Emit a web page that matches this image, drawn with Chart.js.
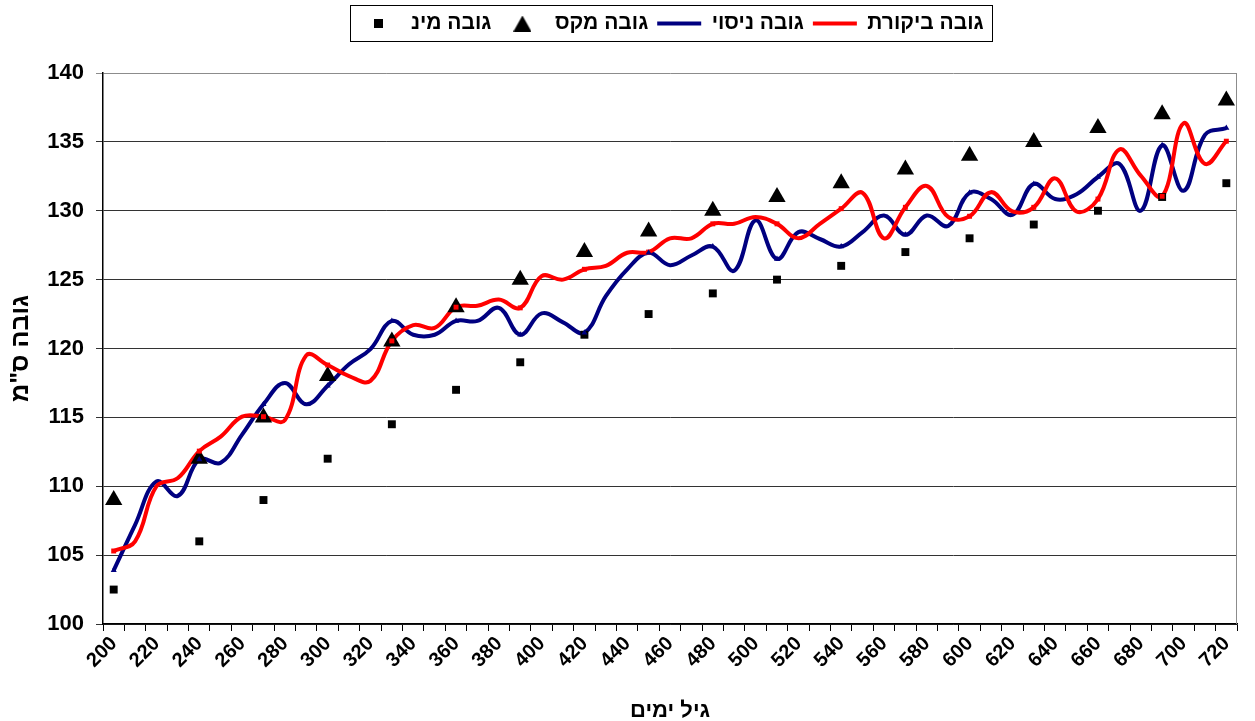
<!DOCTYPE html>
<html lang="he">
<head>
  <meta charset="UTF-8">
  <title>גובה לפי גיל</title>
  <script src="https://cdn.jsdelivr.net/npm/chart.js"></script>
  <style>
    body { margin: 0; background: #fff; }
  </style>
</head>
<body>
  <canvas id="chart" width="1255" height="721"></canvas>

  <script>
    // marker series (min / max) - ages in days
    const markerAges = [205, 245, 275, 305, 335, 365, 395, 425, 455, 485, 515, 545, 575, 605, 635, 665, 695, 725];
    const maxHeight = [109, 112, 115, 118, 120.5, 123, 125, 127, 128.5, 130, 131, 132, 133, 134, 135, 136, 137, 138];
    const minHeight = [102.5, 106, 109, 112, 114.5, 117, 119, 121, 122.5, 124, 125, 126, 127, 128, 129, 130, 131, 132];

    // line series, one reading every 10 days
    const lineAges = [205, 215, 225, 235, 245, 255, 265, 275, 285, 295, 305, 315, 325, 335,
      345, 355, 365, 375, 385, 395, 405, 415, 425, 435, 445, 455, 465,
      475, 485, 495, 505, 515, 525, 535, 545, 555, 565, 575, 585, 595, 605,
      615, 625, 635, 645, 655, 665, 675, 685, 695, 705, 715, 725];
    const controlHeight = [105.3, 106.0, 110.0, 110.6, 112.55, 113.6, 115.05, 115.05, 114.8, 119.5, 118.8, 118.0, 117.65, 120.55,
      121.7, 121.5, 123.0, 123.1, 123.55, 122.95, 125.25, 125.0, 125.75, 126.0, 126.95, 127.0, 128.0,
      128.0, 129.05, 129.05, 129.55, 129.05, 128.0, 129.05, 130.15, 131.3, 128.0, 130.25, 131.8, 129.55, 129.6,
      131.35, 129.95, 130.25, 132.35, 129.95, 130.85, 134.45, 132.55, 131.05, 136.35, 133.4, 135.05];
    const trialHeight = [103.9, 107.2, 110.35, 109.3, 111.95, 111.7, 113.75, 115.95, 117.5, 115.95, 117.3, 118.85, 119.95, 122.0,
      121.0, 121.0, 122.0, 122.0, 122.95, 121.0, 122.55, 121.9, 121.15, 123.8, 125.75, 126.95, 126.05,
      126.75, 127.4, 125.65, 129.3, 126.5, 128.45, 127.95, 127.4, 128.45, 129.65, 128.25, 129.65, 128.9, 131.3,
      130.85, 129.7, 131.95, 130.85, 131.2, 132.45, 133.4, 130.0, 134.75, 131.45, 135.5, 136.0];

    const seriesNames = ['גובה מינ', 'גובה מקס', 'גובה ניסוי', 'גובה ביקורת'];
    const xTitle = 'גיל ימים';
    const yTitle = 'גובה ס"מ';

    const pts = (xs, ys) => xs.map((x, i) => ({ x: x, y: ys[i] }));

    Chart.defaults.font.family = '"Liberation Sans", Arial, sans-serif';
    Chart.defaults.font.weight = 'bold';
    Chart.defaults.color = '#000';

    // legend symbols for the marker series (built-in rect/triangle get stretched by pointStyleWidth)
    const sq = document.createElement('canvas');
    sq.width = 9; sq.height = 9;
    const sqc = sq.getContext('2d');
    sqc.fillStyle = '#000';
    sqc.fillRect(0, 0, 9, 9);

    const tri = document.createElement('canvas');
    tri.width = 18; tri.height = 16;
    const tc = tri.getContext('2d');
    tc.fillStyle = '#000';
    tc.beginPath();
    tc.moveTo(9, 0);
    tc.lineTo(18, 16);
    tc.lineTo(0, 16);
    tc.closePath();
    tc.fill();

    // the line series only show their own little marker where a min/max marker sits
    const atMarker = (r) => (c) => (c.raw && markerAges.includes(c.raw.x)) ? r : 0;

    const legendBox = {
      id: 'legendBox',
      afterDraw(chart) {
        const hb = chart.legend.legendHitBoxes;
        if (!hb || !hb.length) return;
        const last = hb[hb.length - 1];
        const ctx = chart.ctx;
        ctx.save();
        ctx.strokeStyle = '#000';
        ctx.lineWidth = 1;
        const l = Math.round(hb[0].left - 6) + 0.5;
        const r = Math.round(last.left + last.width + 8) + 0.5;
        const t = Math.round(hb[0].top - 8) + 0.5;
        const b = Math.round(hb[0].top + hb[0].height + 7) + 0.5;
        ctx.strokeRect(l, t, r - l, b - t);
        ctx.restore();
      }
    };

    const plotFrame = {
      id: 'plotFrame',
      beforeDatasetsDraw(chart) {
        const a = chart.chartArea;
        const ctx = chart.ctx;
        ctx.save();
        ctx.strokeStyle = '#8c8c8c';
        ctx.lineWidth = 1;
        ctx.beginPath();
        ctx.moveTo(Math.round(a.right) - 0.5, a.top);
        ctx.lineTo(Math.round(a.right) - 0.5, a.bottom);
        ctx.stroke();
        ctx.restore();
      }
    };

    new Chart(document.getElementById('chart'), {
      type: 'line',
      data: {
        datasets: [{
          label: seriesNames[0],
          data: pts(markerAges, minHeight),
          showLine: false,
          pointStyle: 'rect',
          pointRadius: 5.6,
          pointBackgroundColor: '#000',
          pointBorderColor: '#000',
          pointBorderWidth: 0,
          borderColor: '#000',
          backgroundColor: '#000',
          order: 1
        }, {
          label: seriesNames[1],
          data: pts(markerAges, maxHeight),
          showLine: false,
          pointStyle: 'triangle',
          pointRadius: 10,
          pointBackgroundColor: '#000',
          pointBorderColor: '#000',
          pointBorderWidth: 0,
          borderColor: '#000',
          backgroundColor: '#000',
          order: 1
        }, {
          label: seriesNames[2],
          data: pts(lineAges, trialHeight),
          borderColor: '#000080',
          backgroundColor: '#000080',
          borderWidth: 4,
          tension: 0.4,
          pointRadius: 0,
          fill: false,
          order: 3
        }, {
          label: seriesNames[3],
          data: pts(lineAges, controlHeight),
          borderColor: '#ff0000',
          backgroundColor: '#ff0000',
          borderWidth: 4,
          tension: 0.4,
          pointRadius: 0,
          fill: false,
          order: 2
        }, {
          // small series markers drawn on top of the black ones
          label: '',
          data: pts(lineAges, trialHeight),
          showLine: false,
          pointStyle: 'triangle',
          pointRadius: atMarker(3.5),
          pointBackgroundColor: '#000080',
          pointBorderWidth: 0,
          order: 0
        }, {
          label: '',
          data: pts(lineAges, controlHeight),
          showLine: false,
          pointStyle: 'rect',
          pointRadius: atMarker(3.5),
          pointBackgroundColor: '#ff0000',
          pointBorderWidth: 0,
          order: 0
        }]
      },
      options: {
        responsive: false,
        animation: false,
        layout: { padding: { top: 4, right: 3, left: 0, bottom: 0 } },
        plugins: {
          tooltip: { enabled: false },
          legend: {
            position: 'top',
            fullSize: false,
            labels: {
              usePointStyle: true,
              pointStyleWidth: 44,
              boxHeight: 12,
              padding: 9,
              font: { size: 21, weight: 'bold' },
              filter: (item) => item.text !== '',
              sort: (a, b) => a.datasetIndex - b.datasetIndex,
              generateLabels(chart) {
                const items = Chart.defaults.plugins.legend.labels.generateLabels(chart);
                items.forEach(it => {
                  const ds = chart.data.datasets[it.datasetIndex];
                  if (ds.showLine !== false) {
                    it.pointStyle = 'line';
                    it.lineWidth = 4;
                    it.strokeStyle = ds.borderColor;
                  } else {
                    it.pointStyle = ds.pointStyle === 'rect' ? sq : tri;
                  }
                });
                return items;
              }
            }
          },
          subtitle: {
            display: true,
            text: '',
            weight: 100,
            font: { size: 10, lineHeight: 1 },
            padding: { top: 0, bottom: 19 }
          }
        },
        scales: {
          x: {
            type: 'linear',
            min: 200,
            max: 730,
            afterFit: (s) => { s.height = 97; },
            ticks: {
              stepSize: 10,
              autoSkip: false,
              maxRotation: 45,
              minRotation: 45,
              padding: 1,
              labelOffset: 11,
              font: { size: 20, weight: 'bold' },
              callback: (v) => (v % 20 === 0 && v <= 720) ? v : ''
            },
            grid: { drawOnChartArea: false, tickLength: 7, color: '#000' },
            border: { color: '#000', width: 1.5 },
            title: {
              display: true,
              text: xTitle,
              font: { size: 22, weight: 'bold', lineHeight: 1 },
              padding: { top: 0, bottom: -1 }
            }
          },
          y: {
            min: 100,
            max: 140,
            afterFit: (s) => { s.width = 103; },
            ticks: {
              stepSize: 5,
              padding: 12,
              font: { size: 22, weight: 'bold' }
            },
            grid: {
              tickLength: 7,
              color: (c) => c.tick && c.tick.value === 140 ? '#8c8c8c' : '#333'
            },
            border: { color: '#000', width: 1.5 },
            title: {
              display: true,
              text: yTitle,
              font: { size: 25, weight: 'bold', lineHeight: 1 },
              padding: { top: 9, bottom: 0 }
            }
          }
        }
      },
      plugins: [legendBox, plotFrame]
    });
  </script>
</body>
</html>
